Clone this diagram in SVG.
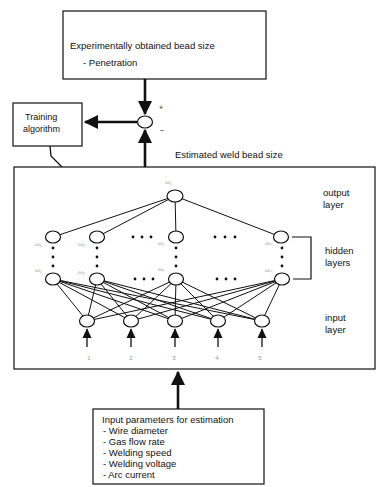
<svg xmlns="http://www.w3.org/2000/svg" width="379" height="487" viewBox="0 0 379 487">
<defs>
<style>
.box{fill:#fff;stroke:#111;stroke-width:1.2}
.t{font-family:"Liberation Sans",Arial,sans-serif;font-size:9.5px;fill:#111}
.s{font-family:"Liberation Sans",Arial,sans-serif;font-size:6px;fill:#999}
.n{fill:#fff;stroke:#111;stroke-width:1.2}
.w{stroke:#111;stroke-width:1;fill:none}
.thick{stroke:#111;stroke-width:2.6;fill:none}
.dot{fill:#111}
</style>
<marker id="big" markerWidth="6" markerHeight="6" refX="5" refY="3" orient="auto" markerUnits="strokeWidth">
<path d="M0,0.3 L5.5,3 L0,5.7 Z" fill="#111"/>
</marker>
<marker id="sm" markerWidth="8" markerHeight="8" refX="7" refY="4" orient="auto" markerUnits="strokeWidth">
<path d="M0,0.5 L7.5,4 L0,7.5 Z" fill="#111"/>
</marker>
</defs>
<rect width="379" height="487" fill="#fff"/>

<g id="connectors">
<line class="thick" x1="145" y1="79" x2="145" y2="114" marker-end="url(#big)"/>
<line class="thick" x1="145" y1="167" x2="145" y2="130" marker-end="url(#big)"/>
<line class="thick" x1="137" y1="122" x2="85" y2="122" marker-end="url(#big)"/>
<polyline class="w" style="stroke-width:1.3" points="50,146 51,156 62,167"/>
<line class="thick" x1="178" y1="409" x2="178" y2="372" marker-end="url(#big)"/>
</g>

<g id="top-box">
<rect class="box" x="63" y="11" width="203" height="68"/>
<text class="t" x="70" y="49">Experimentally obtained bead size</text>
<text class="t" x="83" y="66">- Penetration</text>
</g>

<g id="sum">
<ellipse class="n" cx="145" cy="122" rx="7.5" ry="6"/>
<text class="t" x="159" y="110" style="font-size:7px">+</text>
<text class="t" x="160" y="132" style="font-size:7px">–</text>
</g>

<g id="training">
<rect class="box" x="13" y="103" width="69" height="43"/>
<text class="t" x="25" y="120" style="font-size:9px">Training</text>
<text class="t" x="23" y="132" style="font-size:9px">algorithm</text>
</g>

<text class="t" x="175" y="158">Estimated weld bead size</text>

<g id="network">
<rect class="box" x="14" y="167" width="361" height="202"/>
<g id="net-lines">
<line class="w" x1="175" y1="196" x2="53" y2="237"/>
<line class="w" x1="175" y1="196" x2="97" y2="237"/>
<line class="w" x1="175" y1="196" x2="176" y2="237"/>
<line class="w" x1="175" y1="196" x2="281" y2="237"/>
<g>
<line class="w" x1="53" y1="279" x2="87" y2="321"/><line class="w" x1="53" y1="279" x2="131" y2="321"/><line class="w" x1="53" y1="279" x2="175" y2="321"/><line class="w" x1="53" y1="279" x2="218" y2="321"/><line class="w" x1="53" y1="279" x2="262" y2="321"/>
<line class="w" x1="97" y1="279" x2="87" y2="321"/><line class="w" x1="97" y1="279" x2="131" y2="321"/><line class="w" x1="97" y1="279" x2="175" y2="321"/><line class="w" x1="97" y1="279" x2="218" y2="321"/><line class="w" x1="97" y1="279" x2="262" y2="321"/>
<line class="w" x1="176" y1="279" x2="87" y2="321"/><line class="w" x1="176" y1="279" x2="131" y2="321"/><line class="w" x1="176" y1="279" x2="175" y2="321"/><line class="w" x1="176" y1="279" x2="218" y2="321"/><line class="w" x1="176" y1="279" x2="262" y2="321"/>
<line class="w" x1="282" y1="279" x2="87" y2="321"/><line class="w" x1="282" y1="279" x2="131" y2="321"/><line class="w" x1="282" y1="279" x2="175" y2="321"/><line class="w" x1="282" y1="279" x2="218" y2="321"/><line class="w" x1="282" y1="279" x2="262" y2="321"/>
</g>
<polyline class="w" style="stroke-width:1.2" points="292,237 311,237 311,279 293,279"/>
<line class="w" style="stroke-width:1.3" x1="87" y1="347" x2="87" y2="329" marker-end="url(#sm)"/>
<line class="w" style="stroke-width:1.3" x1="131" y1="347" x2="131" y2="329" marker-end="url(#sm)"/>
<line class="w" style="stroke-width:1.3" x1="175" y1="347" x2="175" y2="329" marker-end="url(#sm)"/>
<line class="w" style="stroke-width:1.3" x1="218" y1="347" x2="218" y2="329" marker-end="url(#sm)"/>
<line class="w" style="stroke-width:1.3" x1="262" y1="347" x2="262" y2="329" marker-end="url(#sm)"/>
</g>
<g id="node-out"><ellipse class="n" cx="175" cy="196" rx="8" ry="6"/></g>
<g id="node-h1a"><ellipse class="n" cx="53" cy="237" rx="7.5" ry="6"/></g>
<g id="node-h2a"><ellipse class="n" cx="97" cy="237" rx="7.5" ry="6"/></g>
<g id="node-hja"><ellipse class="n" cx="176" cy="237" rx="7.5" ry="6"/></g>
<g id="node-hna"><ellipse class="n" cx="281" cy="237" rx="7.5" ry="6"/></g>
<g id="node-h1b"><ellipse class="n" cx="53" cy="279" rx="7.5" ry="6"/></g>
<g id="node-h2b"><ellipse class="n" cx="97" cy="279" rx="7.5" ry="6"/></g>
<g id="node-hjb"><ellipse class="n" cx="176" cy="279" rx="7.5" ry="6"/></g>
<g id="node-hnb"><ellipse class="n" cx="282" cy="279" rx="7.5" ry="6"/></g>
<g id="node-i1"><ellipse class="n" cx="87" cy="321" rx="7.5" ry="6"/></g>
<g id="node-i2"><ellipse class="n" cx="131" cy="321" rx="7.5" ry="6"/></g>
<g id="node-i3"><ellipse class="n" cx="175" cy="321" rx="7.5" ry="6"/></g>
<g id="node-i4"><ellipse class="n" cx="218" cy="321" rx="7.5" ry="6"/></g>
<g id="node-i5"><ellipse class="n" cx="262" cy="321" rx="7.5" ry="6"/></g>
<g id="dots">
<circle class="dot" cx="53" cy="248" r="1.4"/><circle class="dot" cx="53" cy="257" r="1.4"/><circle class="dot" cx="53" cy="266" r="1.4"/>
<circle class="dot" cx="97" cy="248" r="1.4"/><circle class="dot" cx="97" cy="257" r="1.4"/><circle class="dot" cx="97" cy="266" r="1.4"/>
<circle class="dot" cx="176" cy="248" r="1.4"/><circle class="dot" cx="176" cy="257" r="1.4"/><circle class="dot" cx="176" cy="266" r="1.4"/>
<circle class="dot" cx="282" cy="248" r="1.4"/><circle class="dot" cx="282" cy="257" r="1.4"/><circle class="dot" cx="282" cy="266" r="1.4"/>
<circle class="dot" cx="133" cy="237" r="1.4"/><circle class="dot" cx="142" cy="237" r="1.4"/><circle class="dot" cx="151" cy="237" r="1.4"/>
<circle class="dot" cx="215" cy="237" r="1.4"/><circle class="dot" cx="225" cy="237" r="1.4"/><circle class="dot" cx="235" cy="237" r="1.4"/>
<circle class="dot" cx="135" cy="279" r="1.4"/><circle class="dot" cx="144" cy="279" r="1.4"/><circle class="dot" cx="153" cy="279" r="1.4"/>
<circle class="dot" cx="217" cy="279" r="1.4"/><circle class="dot" cx="226" cy="279" r="1.4"/><circle class="dot" cx="235" cy="279" r="1.4"/>
</g>
<g id="weights">
<text class="s" x="165" y="184">ω₁</text>
<text class="s" x="35" y="246">ω₁</text>
<text class="s" x="78" y="246">ω₂</text>
<text class="s" x="158" y="245">ωⱼ</text>
<text class="s" x="265" y="245">ωₙ</text>
<text class="s" x="35" y="272">ω₁</text>
<text class="s" x="78" y="274">ω₂</text>
<text class="s" x="158" y="271">ωⱼ</text>
<text class="s" x="265" y="272">ωₙ</text>
</g>
<g id="input-numbers">
<text class="s" x="89" y="360" text-anchor="middle">1</text>
<text class="s" x="131" y="360" text-anchor="middle">2</text>
<text class="s" x="174" y="360" text-anchor="middle">3</text>
<text class="s" x="217" y="360" text-anchor="middle">4</text>
<text class="s" x="260" y="360" text-anchor="middle">5</text>
</g>
<text class="t" x="323" y="196">output</text>
<text class="t" x="323" y="208">layer</text>
<text class="t" x="325" y="254">hidden</text>
<text class="t" x="325" y="266">layers</text>
<text class="t" x="325" y="321">input</text>
<text class="t" x="325" y="333">layer</text>
</g>

<g id="input-box">
<rect class="box" x="93" y="409" width="171" height="75"/>
<text class="t" x="102" y="423">Input parameters for estimation</text>
<text class="t" x="103" y="434">- Wire diameter</text>
<text class="t" x="103" y="445">- Gas flow rate</text>
<text class="t" x="103" y="456">- Welding speed</text>
<text class="t" x="103" y="467">- Welding voltage</text>
<text class="t" x="103" y="478">- Arc current</text>
</g>
</svg>
